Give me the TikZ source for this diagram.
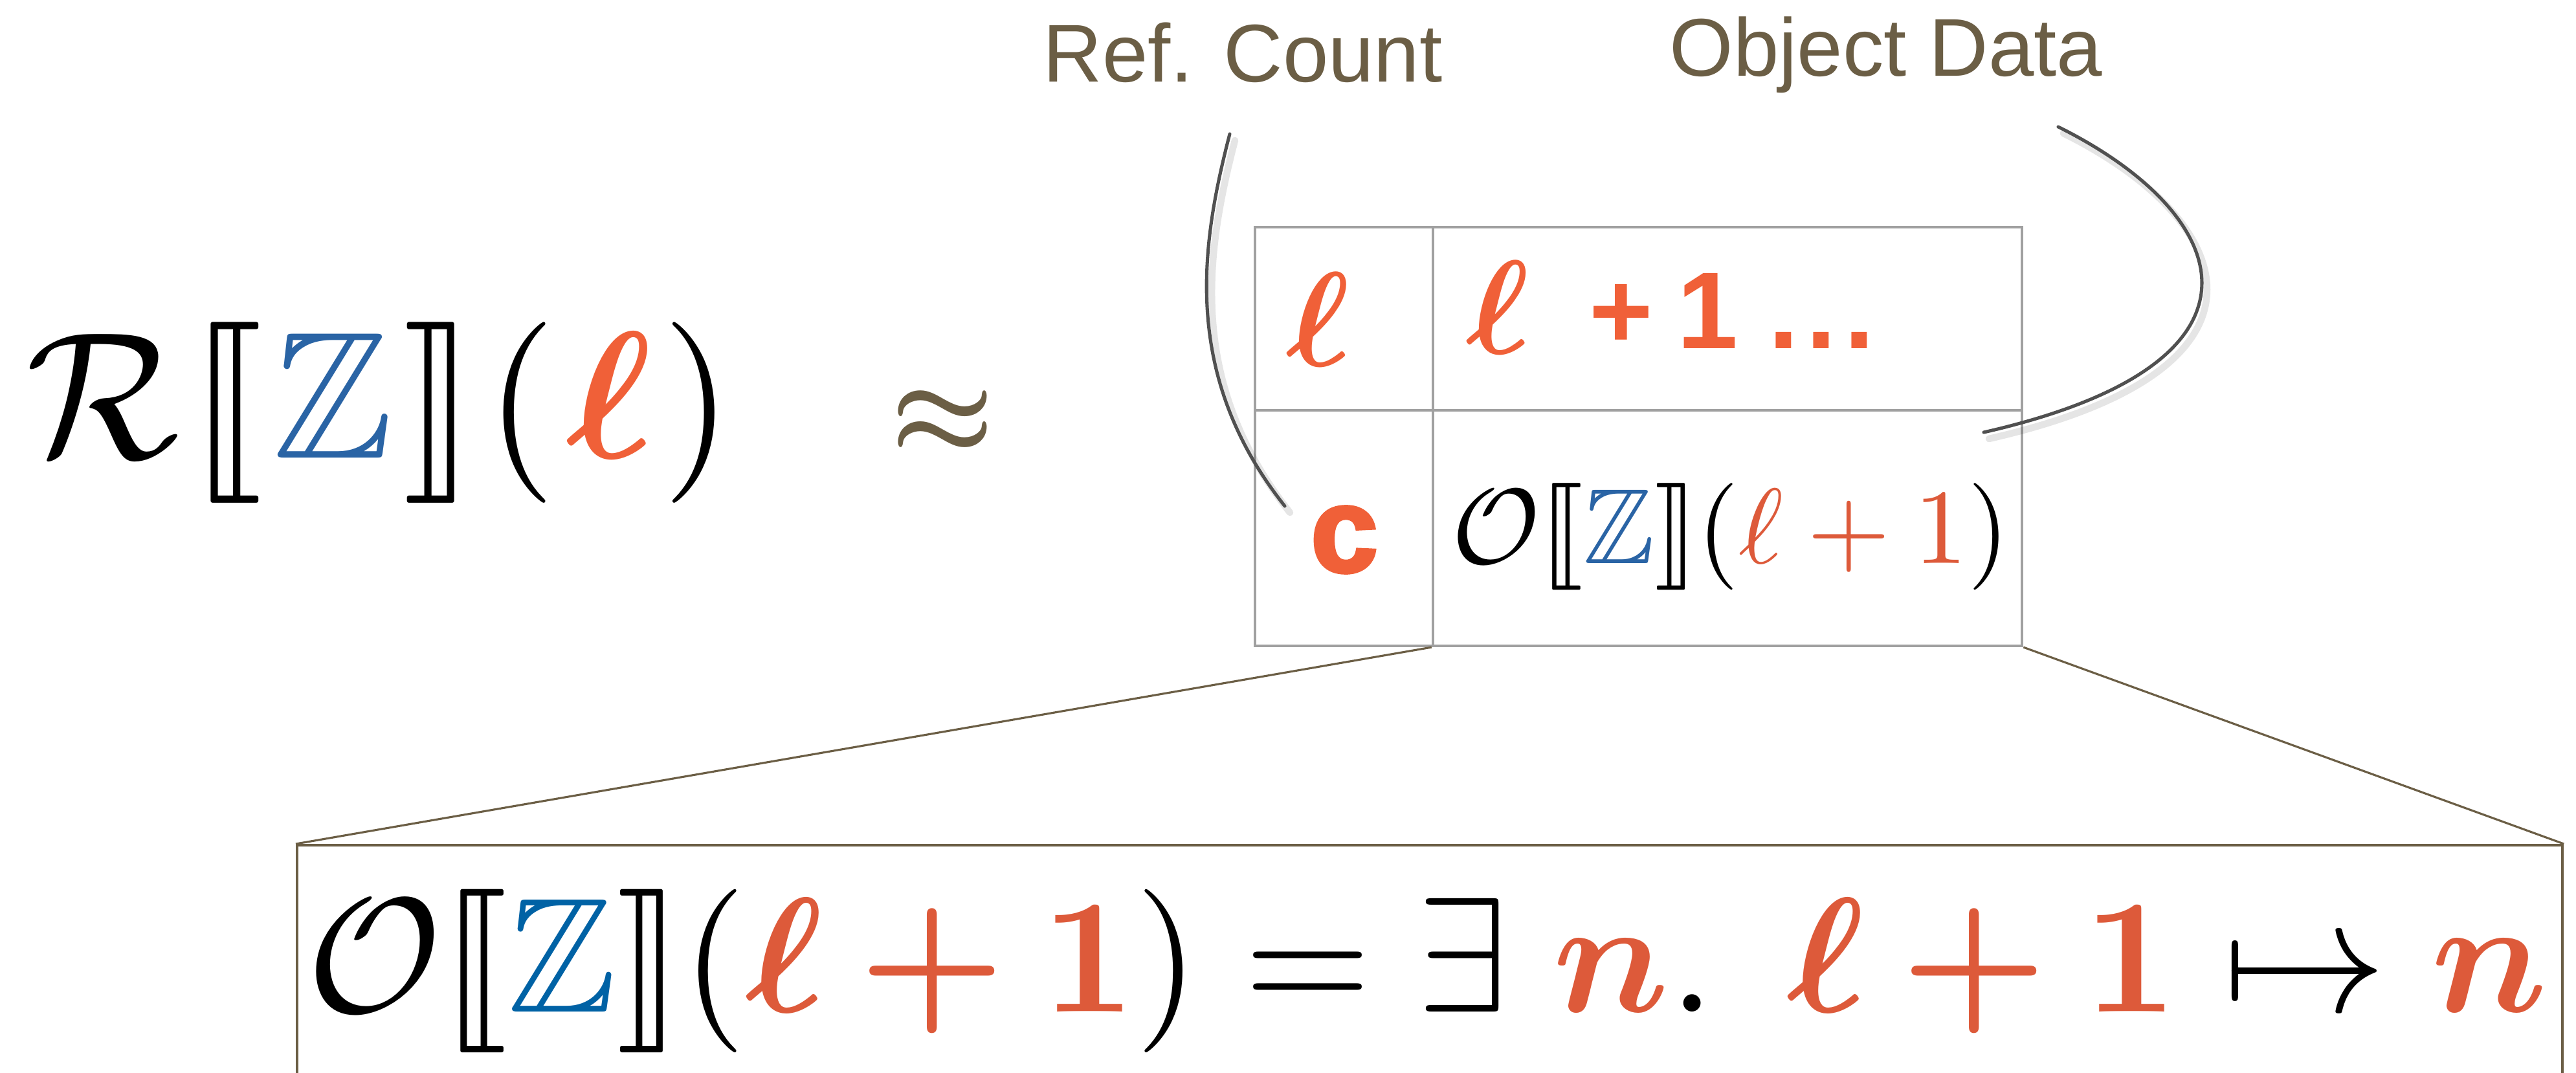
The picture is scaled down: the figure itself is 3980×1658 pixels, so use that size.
\documentclass[tikz,border=0pt]{standalone}
\usepackage{amsmath,amssymb,stmaryrd}
\usepackage{graphicx}
\usepackage[no-math]{fontspec}
\newfontfamily\labfont{Liberation Sans}
\newfontfamily\heavyfont{Liberation Sans}[BoldFeatures={FakeBold=3}]
\definecolor{brn}{RGB}{107,94,69}
\definecolor{orngA}{RGB}{240,96,56}
\definecolor{orngB}{RGB}{221,90,58}
\definecolor{zblue}{RGB}{42,100,165}
\definecolor{zblueB}{RGB}{0,98,165}
\definecolor{tgrey}{RGB}{160,160,160}
\definecolor{cgrey}{RGB}{80,80,80}
\begin{document}
\begin{tikzpicture}[x=0.01cm,y=-0.01cm,
  cell/.style={draw=tgrey, line width=1.15pt, inner sep=0pt},
  curve/.style={draw=cgrey, line width=1.45pt, line cap=round},
  curveshadow/.style={draw=black, draw opacity=0.10, line width=3pt, line cap=round},
  conn/.style={draw=brn, line width=0.9pt},
  lab/.style={font=\labfont\fontsize{36}{40}\selectfont, text=brn, inner sep=0pt, anchor=base west},
  mth/.style={inner sep=0pt},
  sansb/.style={font=\labfont\bfseries\fontsize{48}{50}\selectfont, text=orngA, inner sep=0pt},
  heavyc/.style={font=\heavyfont\bfseries\fontsize{53}{55}\selectfont, text=orngA, inner sep=0pt}
]
\useasboundingbox (0,0) rectangle (3980,1658);
\clip (0,0) rectangle (3980,1658);

% labels
\node[lab] (refcount) at (1611,127) {Ref. Count};
\node[lab] (objdata) at (2579,118) {Object Data};

% left formula
\node[mth, anchor=base west] (lhs) at (40,708)
  {\resizebox{10.9cm}{!}{$\mathcal{R}\mskip1mu\llbracket\mskip1mu\textcolor{zblue}{\mathbb{Z}}\mskip1mu\rrbracket\mskip1mu(\mskip1mu\textcolor{orngA}{\boldsymbol{\ell}}\mskip1mu)$}};
\node[mth, text=brn] (approx) at (1457,653) {\resizebox{1.6cm}{!}{$\boldsymbol{\approx}$}};

% table cells
\node[cell, minimum width=2.75cm, minimum height=2.83cm] (cL1) at (2076.5,492.5) {};
\node[cell, minimum width=9.10cm, minimum height=2.83cm] (cR1) at (2669,492.5) {};
\node[cell, minimum width=2.75cm, minimum height=3.64cm] (cL2) at (2076.5,816) {};
\node[cell, minimum width=9.10cm, minimum height=3.64cm] (cR2) at (2669,816) {};

% cell contents
\node[mth, text=orngA] (ell1) at (2037,493) {\resizebox{!}{1.44cm}{$\boldsymbol{\ell}$}};
\node[mth, text=orngA] (ell2) at (2314,475) {\resizebox{!}{1.43cm}{$\boldsymbol{\ell}$}};
\node[sansb, anchor=base west] (plus1) at (2455,539) {+\kern0.22em1 .\kern0.07em.\kern0.07em.};
\node[heavyc] (cc) at (2077,834) {c};
\node[mth, anchor=base west] (obj) at (2243,870)
  {\resizebox{8.6cm}{!}{$\mathcal{O}\llbracket\textcolor{zblue}{\mathbb{Z}}\rrbracket(\textcolor{orngB}{\ell+1})$}};

% callout curves
\coordinate (rcA) at (1900,207);
\coordinate (rcB) at (1985,782);
\coordinate (odA) at (3180,196);
\coordinate (odB) at (3065,668);
\draw[curveshadow] ([shift={(8,10)}]rcA) .. controls (1863,390) and (1833,590) .. ([shift={(8,10)}]rcB);
\draw[curveshadow] ([shift={(8,10)}]odA) .. controls (3458,340) and (3548,570) .. ([shift={(8,10)}]odB);
\draw[curve] (rcA) .. controls (1855,380) and (1825,580) .. (rcB);
\draw[curve] (odA) .. controls (3450,330) and (3540,560) .. (odB);

% zoom box
\node[draw=brn, line width=1.2pt, inner sep=0pt, minimum width=34.98cm, minimum height=6cm, anchor=north west] (zbox) at (457,1304) {};
\draw[conn] (cR2.south west) -- (zbox.north west);
\draw[conn] (cR2.south east) -- (zbox.north east);

\node[mth, anchor=base west] (eqn) at (474,1563)
  {\resizebox{34.6cm}{!}{$\mathcal{O}\llbracket\textcolor{zblueB}{\mathbb{Z}}\rrbracket(\textcolor{orngB}{\boldsymbol{\ell}\mathbin{\boldsymbol{+}}\mathbf{1}}) = \exists\;\textcolor{orngB}{\boldsymbol{n}}.\;\,\textcolor{orngB}{\boldsymbol{\ell}\mathbin{\boldsymbol{+}}\mathbf{1}} \mapsto \textcolor{orngB}{\boldsymbol{n}}$}};
\end{tikzpicture}
\end{document}
